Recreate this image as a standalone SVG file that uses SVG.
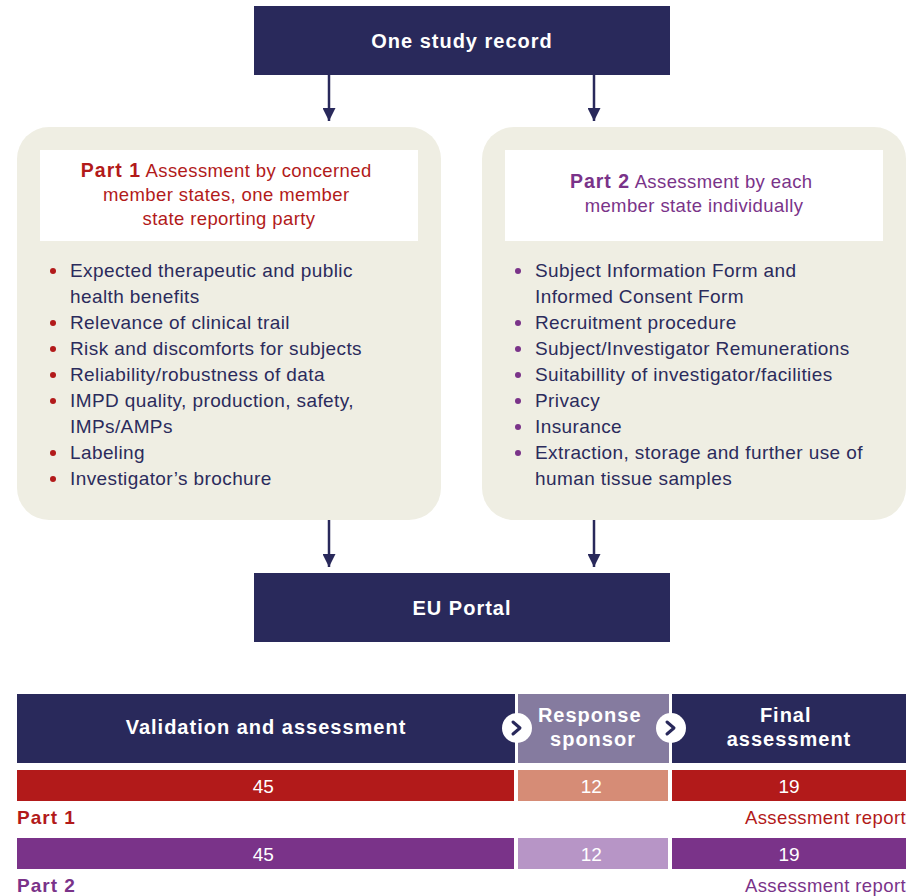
<svg xmlns="http://www.w3.org/2000/svg" width="917" height="896" viewBox="0 0 917 896">
  <style>
    .navy { fill: #29295B; }
    .panel { fill: #EFEEE3; }
    .hdr { fill: #FFFFFF; }
    .t { font-family: "Liberation Sans", Arial, sans-serif; }
    .bold { font-weight: bold; }
    .wh { fill: #FFFFFF; }
    .bul { font-size: 19px; letter-spacing: 0.4px; fill: #2B2B5C; }
    .head { font-size: 18.5px; letter-spacing: 0.4px; }
    .title { font-size: 20px; font-weight: bold; letter-spacing: 1px; fill: #FFFFFF; }
    .red { fill: #B21A1A; }
    .pur { fill: #7A3389; }
    .conn { stroke: #29295B; stroke-width: 2.5; fill: none; }
  </style>
  <defs>
    <marker id="arrow" viewBox="0 0 10 10" refX="10" refY="5" markerWidth="13" markerHeight="13" markerUnits="userSpaceOnUse" orient="auto">
      <path d="M0,0 L10,5 L0,10 Z" fill="#29295B"/>
    </marker>
  </defs>

  <!-- top record box -->
  <g id="study-record">
    <rect class="navy" x="254" y="6" width="416" height="69"/>
    <text class="t title" x="462" y="48" text-anchor="middle">One study record</text>
  </g>

  <!-- Part 1 panel -->
  <g id="part1">
    <rect class="panel" x="17" y="127" width="424" height="393" rx="32"/>
    <rect class="hdr" x="40" y="150" width="378" height="91"/>
    <text class="t head red" text-anchor="middle">
      <tspan x="229" y="177"><tspan class="bold" font-size="19.5" letter-spacing="1">Part 1</tspan>  Assessment by concerned</tspan>
      <tspan x="229" y="201">member states, one member</tspan>
      <tspan x="229" y="225">state reporting party</tspan>
    </text>
    <g class="red">
      <circle cx="53" cy="271" r="3"/>
      <circle cx="53" cy="323" r="3"/>
      <circle cx="53" cy="349" r="3"/>
      <circle cx="53" cy="375" r="3"/>
      <circle cx="53" cy="401" r="3"/>
      <circle cx="53" cy="453" r="3"/>
      <circle cx="53" cy="479" r="3"/>
    </g>
    <text class="t bul">
      <tspan x="70" y="277">Expected therapeutic and public</tspan>
      <tspan x="70" y="303">health benefits</tspan>
      <tspan x="70" y="329">Relevance of clinical trail</tspan>
      <tspan x="70" y="355">Risk and discomforts for subjects</tspan>
      <tspan x="70" y="381">Reliability/robustness of data</tspan>
      <tspan x="70" y="407">IMPD quality, production, safety,</tspan>
      <tspan x="70" y="433">IMPs/AMPs</tspan>
      <tspan x="70" y="459">Labeling</tspan>
      <tspan x="70" y="485">Investigator’s brochure</tspan>
    </text>
  </g>

  <!-- Part 2 panel -->
  <g id="part2">
    <rect class="panel" x="482" y="127" width="424" height="393" rx="32"/>
    <rect class="hdr" x="505" y="150" width="378" height="91"/>
    <text class="t head pur" text-anchor="middle">
      <tspan x="694" y="188"><tspan class="bold" font-size="19.5" letter-spacing="1">Part 2</tspan>  Assessment by each</tspan>
      <tspan x="694" y="212">member state individually</tspan>
    </text>
    <g class="pur">
      <circle cx="518" cy="271" r="3"/>
      <circle cx="518" cy="323" r="3"/>
      <circle cx="518" cy="349" r="3"/>
      <circle cx="518" cy="375" r="3"/>
      <circle cx="518" cy="401" r="3"/>
      <circle cx="518" cy="427" r="3"/>
      <circle cx="518" cy="453" r="3"/>
    </g>
    <text class="t bul">
      <tspan x="535" y="277">Subject Information Form and</tspan>
      <tspan x="535" y="303">Informed Consent Form</tspan>
      <tspan x="535" y="329">Recruitment procedure</tspan>
      <tspan x="535" y="355">Subject/Investigator Remunerations</tspan>
      <tspan x="535" y="381">Suitabillity of investigator/facilities</tspan>
      <tspan x="535" y="407">Privacy</tspan>
      <tspan x="535" y="433">Insurance</tspan>
      <tspan x="535" y="459">Extraction, storage and further use of</tspan>
      <tspan x="535" y="485">human tissue samples</tspan>
    </text>
  </g>

  <!-- EU Portal box -->
  <g id="eu-portal">
    <rect class="navy" x="254" y="573" width="416" height="69"/>
    <text class="t title" x="462" y="615" text-anchor="middle">EU Portal</text>
  </g>

  <!-- connectors -->
  <g id="connectors">
    <line class="conn" x1="329" y1="75" x2="329" y2="121" marker-end="url(#arrow)"/>
    <line class="conn" x1="594" y1="75" x2="594" y2="121" marker-end="url(#arrow)"/>
    <line class="conn" x1="329" y1="520" x2="329" y2="567" marker-end="url(#arrow)"/>
    <line class="conn" x1="594" y1="520" x2="594" y2="567" marker-end="url(#arrow)"/>
  </g>

  <!-- timeline table -->
  <g id="timeline-header">
    <rect class="navy" x="17" y="694" width="498" height="69"/>
    <rect x="518" y="694" width="151" height="69" fill="#857B9F"/>
    <rect class="navy" x="672" y="694" width="234" height="69"/>
    <text class="t title" x="266" y="734" text-anchor="middle">Validation and assessment</text>
    <text class="t title" text-anchor="middle">
      <tspan x="593" y="722">Response</tspan>
      <tspan x="593" y="746">sponsor</tspan>
    </text>
    <text class="t title" text-anchor="middle">
      <tspan x="789" y="722">Final</tspan>
      <tspan x="789" y="746">assessment</tspan>
    </text>
    <circle cx="517" cy="728" r="15" fill="#FFFFFF"/>
    <path d="M513,722 L520,728 L513,734" stroke="#29295B" stroke-width="3" fill="none" stroke-linecap="round" stroke-linejoin="round"/>
    <circle cx="671" cy="728" r="15" fill="#FFFFFF"/>
    <path d="M667,722 L674,728 L667,734" stroke="#29295B" stroke-width="3" fill="none" stroke-linecap="round" stroke-linejoin="round"/>
  </g>

  <g id="timeline-part1">
    <rect x="17" y="770" width="497" height="31" fill="#B21A1A"/>
    <rect x="518" y="770" width="150" height="31" fill="#D68C76"/>
    <rect x="672" y="770" width="234" height="31" fill="#B21A1A"/>
    <text class="t wh" font-size="19" text-anchor="middle">
      <tspan x="266" y="793">45</tspan>
      <tspan x="594" y="793">12</tspan>
      <tspan x="789" y="793">19</tspan>
    </text>
    <text class="t bold red" x="17" y="824" font-size="19" letter-spacing="1">Part 1</text>
    <text class="t red" x="906" y="824" font-size="18.5" letter-spacing="0.4" text-anchor="end">Assessment report</text>
  </g>

  <g id="timeline-part2">
    <rect x="17" y="838" width="497" height="31" fill="#7A3389"/>
    <rect x="518" y="838" width="150" height="31" fill="#B795C6"/>
    <rect x="672" y="838" width="234" height="31" fill="#7A3389"/>
    <text class="t wh" font-size="19" text-anchor="middle">
      <tspan x="266" y="861">45</tspan>
      <tspan x="594" y="861">12</tspan>
      <tspan x="789" y="861">19</tspan>
    </text>
    <text class="t bold pur" x="17" y="892" font-size="19" letter-spacing="1">Part 2</text>
    <text class="t pur" x="906" y="892" font-size="18.5" letter-spacing="0.4" text-anchor="end">Assessment report</text>
  </g>
</svg>
